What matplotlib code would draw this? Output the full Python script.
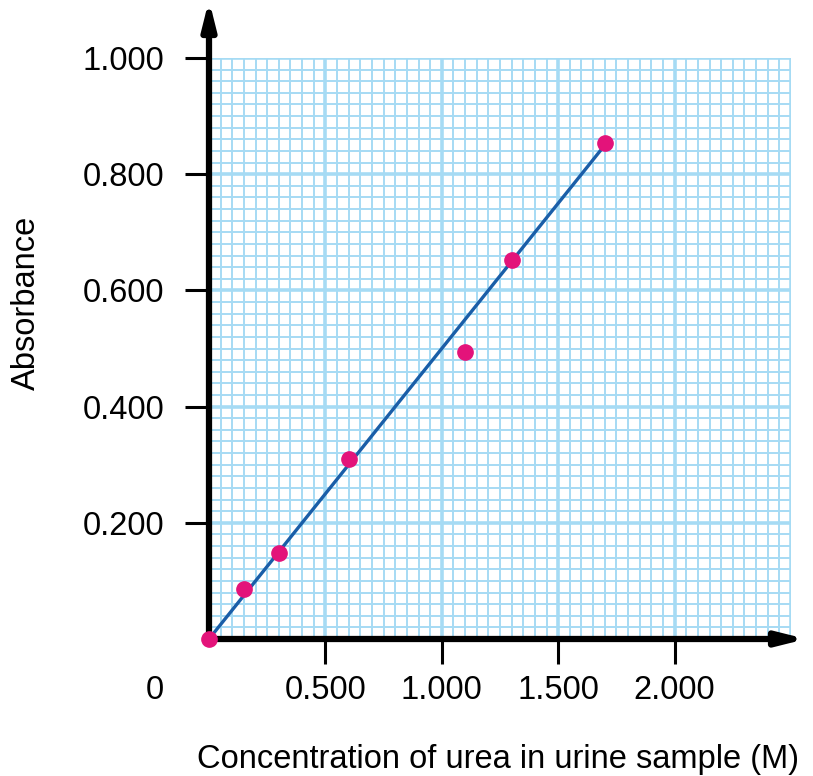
"""Calibration plot: absorbance vs urea concentration."""

import matplotlib
matplotlib.use("Agg")
import matplotlib.pyplot as plt
import numpy as np

plt.rcParams["font.family"] = ["Liberation Sans", "DejaVu Sans"]

# measured points
conc = [0.0, 0.15, 0.3, 0.6, 1.1, 1.3, 1.7]
absorbance = [0.0, 0.086, 0.148, 0.31, 0.494, 0.652, 0.853]

# best fit line
fit_x = [0.0, 1.7]
fit_y = [0.0, 0.85]

x_ticks = [0.5, 1.0, 1.5, 2.0]
x_labels = ["0.500", "1.000", "1.500", "2.000"]
y_ticks = [0.2, 0.4, 0.6, 0.8, 1.0]
y_labels = ["0.200", "0.400", "0.600", "0.800", "1.000"]

GRID = "#a6dbf4"
LINE = "#1a5ea8"
DOT = "#e3137a"
FS = 23.5

fig = plt.figure(figsize=(8.13, 7.76), dpi=100)
ax = fig.add_axes([209 / 813, 137 / 776, 582 / 813, 581 / 776])
ax.set_xlim(0, 2.5)
ax.set_ylim(0, 1.0)

# graph paper
for gx in np.arange(0.05, 2.5001, 0.05):
    major = abs(gx / 0.5 - round(gx / 0.5)) < 1e-6
    ax.axvline(gx, color=GRID, lw=2.6 if major else 1.4, zorder=1)
for gy in np.arange(0.02, 1.0001, 0.02):
    major = abs(gy / 0.2 - round(gy / 0.2)) < 1e-6
    ax.axhline(gy, color=GRID, lw=2.6 if major else 1.4, zorder=1)

ax.plot(fit_x, fit_y, color=LINE, lw=2.4, zorder=3)
ax.plot(conc, absorbance, "o", color=DOT, ms=11, zorder=6, clip_on=False)

for s in ax.spines.values():
    s.set_visible(False)

# axes with arrows
arrow = dict(arrowstyle="-|>,head_length=1.6,head_width=0.4", color="black",
             lw=4.5, shrinkA=0, shrinkB=0)
ax.annotate("", xy=(1.026, 0), xytext=(-0.005, 0), xycoords="axes fraction",
            textcoords="axes fraction", arrowprops=arrow, zorder=5)
ax.annotate("", xy=(0, 1.1), xytext=(0, -0.005), xycoords="axes fraction",
            textcoords="axes fraction", arrowprops=arrow, zorder=5)

ax.set_xticks(x_ticks, x_labels)
ax.set_yticks(y_ticks, y_labels)
ax.tick_params(axis="x", direction="out", length=18, width=2.2, pad=8, labelsize=FS)
ax.tick_params(axis="y", direction="out", length=17, width=2.2, pad=15, labelsize=FS)

ax.text(-0.093, -0.088, "0", transform=ax.transAxes, ha="center", va="center", fontsize=FS)
ax.text(-0.313, 0.578, "Absorbance", transform=ax.transAxes, ha="center", va="center",
        rotation=90, fontsize=FS)
ax.text(0.497, -0.208, "Concentration of urea in urine sample (M)", transform=ax.transAxes,
        ha="center", va="center", fontsize=FS)

fig.savefig("out.png", dpi=100)
